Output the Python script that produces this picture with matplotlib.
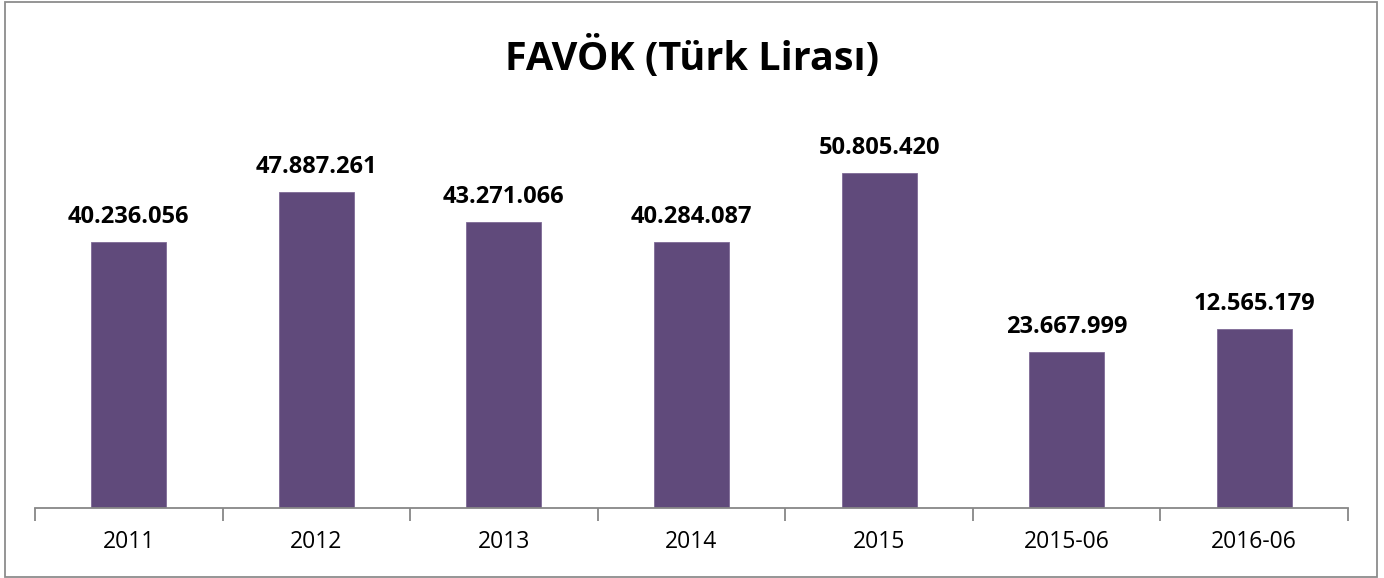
import matplotlib
matplotlib.use('Agg')
import matplotlib.pyplot as plt
from matplotlib.patches import Rectangle

plt.rcParams['font.family'] = ['Open Sans', 'DejaVu Sans']

categories = ['2011', '2012', '2013', '2014', '2015', '2015-06', '2016-06']
# bar heights as drawn in the picture
values = [40236056, 47887261, 43271066, 40284087, 50805420, 23667999, 27100000]
# value labels as printed on the chart
value_labels = ['40.236.056', '47.887.261', '43.271.066', '40.284.087',
                '50.805.420', '23.667.999', '12.565.179']

bar_color = '#604a7b'
axis_color = '#878787'

fig = plt.figure(figsize=(13.84, 5.78), dpi=100)
W, H = 1384, 578

# outer chart border
fig.patches.append(Rectangle((4.5 / W, 1.0 / H), (1376.5 - 4.5) / W, (576 - 1.0) / H,
                             transform=fig.transFigure, fill=False,
                             edgecolor='#8c8c8c', linewidth=1.3))

ax = fig.add_axes([35 / W, (H - 508) / H, (1348 - 35) / W, (508 - 112) / H])

x = list(range(len(categories)))
ax.bar(x, values, width=0.4, color=bar_color, edgecolor='#7e6a96', linewidth=0.6, zorder=2)

ax.set_xlim(-0.5, len(categories) - 0.5)
ax.set_ylim(0, 60000000)

for xi, v, lab in zip(x, values, value_labels):
    ax.annotate(lab, (xi, v), xytext=(0, 19), textcoords='offset pixels',
                ha='center', va='baseline', fontsize=17, fontweight='bold', color='black')

for s in ['top', 'right', 'left']:
    ax.spines[s].set_visible(False)
ax.spines['bottom'].set_color(axis_color)
ax.spines['bottom'].set_linewidth(1.3)

ax.set_yticks([])
ax.set_xticks(x)
ax.set_xticklabels(categories, fontsize=16.5)
ax.tick_params(axis='x', which='major', length=0, pad=16)
ax.set_xticks([i - 0.5 for i in range(len(categories) + 1)], minor=True)
ax.tick_params(axis='x', which='minor', length=9, width=1.3, color=axis_color)

fig.text(692 / W, 1 - 57 / H, 'FAVÖK (Türk Lirası)', ha='center', va='center',
         fontsize=28.5, fontweight='bold')

fig.savefig('out.png', dpi=100)
